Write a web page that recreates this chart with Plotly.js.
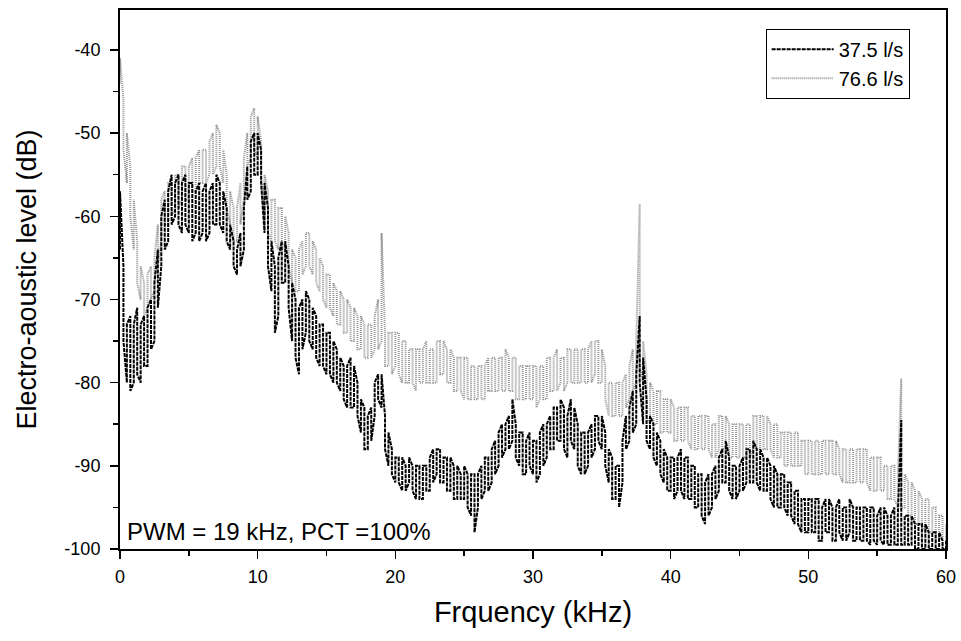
<!DOCTYPE html>
<html>
<head>
<meta charset="utf-8">
<script src="https://cdn.plot.ly/plotly-3.0.1.min.js"></script>
<style>
  html, body { margin: 0; padding: 0; background: #fff; }
  #chart { width: 961px; height: 641px; }
</style>
</head>
<body>
<div id="chart"></div>
<script>
// Frequency grid (kHz): 0 to 60 in steps of 0.25
const FREQ_START = 0;
const FREQ_STEP = 0.25;

// Series names
const seriesNames = ['37.5 l/s', '76.6 l/s'];

// 37.5 l/s: upper and lower edges of the noise band (dB)
const black_hi = [
-57,-66,-73,-72, -73,-71,-73,-72, -71,-70,-68,-64, -60,-58,-57,-55, -56,-55,-56,-55,
-56,-56,-57,-56, -57,-56,-57,-56, -55,-56,-57,-59, -61,-63,-64,-62, -59,-54,-51,-50,
-50,-52,-56,-59, -63,-66,-65,-63, -63,-66,-68,-70, -71,-70,-69,-70, -71,-72,-73,-73,
-74,-74,-75,-76, -77,-78,-78,-77, -78,-80,-82,-83, -84,-83,-80,-79, -79,-84,-86,-88,
-89,-89,-89,-90, -89,-90,-90,-90, -90,-90,-89,-88, -88,-88,-89,-89, -89,-90,-90,-91,
-90,-91,-91,-91, -91,-90,-89,-89, -88,-87,-86,-85, -85,-84,-82,-85, -86,-86,-87,-86,
-87,-87,-86,-85, -85,-84,-83,-83, -82,-83,-84,-82, -83,-85,-86,-86, -86,-85,-84,-84,
-84,-86,-88,-89, -90,-90,-87,-84, -83,-81,-79,-72, -77,-82,-84,-85, -86,-87,-88,-89,
-89,-89,-89,-88, -89,-89,-90,-90, -91,-91,-92,-91, -91,-90,-89,-88, -87,-89,-90,-90,
-90,-89,-88,-88, -87,-88,-88,-89, -89,-90,-90,-91, -91,-91,-92,-92, -93,-93,-94,-94,
-94,-94,-94,-94, -95,-94,-94,-95, -95,-94,-95,-95, -94,-95,-95,-95, -95,-95,-95,-95,
-96,-95,-95,-96, -96,-95,-96,-84.5, -96,-96,-96,-97, -97,-97,-97,-98, -98,-98,-98,-99,
-99
];
const black_lo = [
-64,-75,-80,-81, -80,-79,-80,-78, -78,-76,-75,-71, -66,-64,-63,-61, -60,-61,-62,-61,
-62,-63,-62,-63, -62,-63,-62,-61, -61,-61,-62,-63, -64,-66,-67,-66, -64,-58,-57,-55,
-55,-56,-62,-66, -69,-74,-72,-68, -68,-71,-75,-77, -79,-76,-74,-75, -76,-77,-78,-78,
-79,-79,-80,-80, -81,-82,-83,-83, -83,-84,-86,-88, -88,-87,-84,-82, -83,-88,-90,-91,
-92,-92,-93,-93, -92,-93,-94,-94, -94,-93,-93,-92, -91,-92,-92,-93, -93,-94,-94,-94,
-94,-95,-96,-98, -95,-94,-93,-93, -92,-91,-90,-89, -88,-88,-87,-89, -90,-91,-91,-90,
-91,-92,-91,-90, -89,-88,-88,-87, -87,-88,-89,-87, -88,-90,-91,-91, -90,-89,-88,-87,
-88,-90,-92,-94, -94,-95,-92,-88, -87,-86,-85,-80, -85,-87,-88,-89, -90,-91,-92,-93,
-93,-94,-93,-93, -94,-94,-94,-95, -95,-96,-97,-96, -95,-94,-93,-92, -92,-93,-94,-94,
-93,-93,-92,-92, -92,-92,-93,-93, -93,-94,-95,-95, -95,-95,-96,-96, -97,-97,-98,-98,
-98,-98,-98,-99, -99,-98,-98,-99, -99,-98,-99,-99, -98,-99,-99,-99, -99,-99,-99.5,-99,
-99.5,-99,-99.5,-99.5, -99.5,-99.5,-99.5,-99.5, -99.5,-99.5,-99.5,-100, -100,-100,-100,-100, -100,-100,-100,-100,
-100
];

// 76.6 l/s: upper and lower edges of the noise band (dB)
const gray_hi = [
-41,-46,-50,-54, -58,-63,-66,-68, -67,-66,-65,-61, -58,-57,-56,-56, -55,-55,-54,-54,
-54,-53,-53,-52, -52,-52,-51,-50, -49,-50,-52,-55, -57,-59,-59,-56, -53,-50,-48,-47,
-48,-51,-55,-57, -58,-58,-59,-59, -60,-62,-64,-65, -64,-63,-62,-62, -63,-64,-65,-66,
-67,-67,-68,-69, -69,-70,-70,-71, -71,-72,-72,-73, -73,-73,-72,-70, -62,-74,-74,-74,
-74,-74,-75,-75, -76,-76,-76,-76, -76,-75,-76,-76, -75,-75,-75,-76, -76,-77,-77,-77,
-77,-77,-78,-78, -78,-78,-78,-77, -77,-77,-77,-77, -76,-77,-77,-77, -78,-78,-78,-78,
-78,-78,-78,-78, -77,-77,-77,-76, -77,-77,-76,-76, -76,-76,-76,-76, -76,-75,-75,-75,
-76,-78,-80,-80, -80,-80,-80,-79, -78,-76,-75,-58.5, -75,-79,-80,-81, -81,-81,-82,-82,
-82,-83,-83,-83, -83,-83,-84,-84, -84,-84,-84,-84, -85,-85,-84,-84, -84,-85,-85,-85,
-85,-85,-85,-85, -84,-84,-84,-84, -84,-85,-85,-85, -86,-86,-86,-86, -86,-86,-87,-87,
-87,-87,-87,-87, -87,-87,-87,-87, -87,-88,-88,-88, -88,-88,-88,-88, -88,-88,-89,-89,
-89,-89,-90,-90, -90,-90,-91,-79.5, -91,-92,-92,-93, -93,-94,-94,-94, -95,-95,-96,-96,
-97
];
const gray_lo = [
-44,-52,-56,-60, -64,-68,-70,-72, -71,-70,-69,-66, -63,-61,-61,-60, -59,-59,-58,-58,
-58,-57,-57,-56, -56,-56,-55,-55, -54,-54,-56,-59, -61,-63,-63,-61, -58,-54,-53,-52,
-53,-55,-60,-62, -63,-63,-64,-63, -64,-66,-68,-69, -69,-67,-66,-66, -67,-68,-69,-70,
-71,-71,-72,-73, -73,-74,-74,-75, -75,-76,-76,-77, -77,-77,-76,-76, -75,-78,-78,-79,
-78,-79,-80,-80, -80,-80,-81,-80, -80,-80,-80,-80, -80,-79,-79,-80, -80,-81,-81,-81,
-82,-82,-82,-82, -82,-82,-82,-81, -81,-81,-81,-81, -81,-81,-81,-82, -82,-82,-82,-82,
-82,-83,-82,-82, -82,-81,-81,-81, -80,-81,-80,-80, -80,-80,-80,-80, -80,-80,-79,-80,
-80,-82,-84,-84, -84,-84,-84,-83, -82,-81,-80,-78, -80,-84,-85,-85, -85,-86,-86,-86,
-86,-87,-87,-87, -87,-87,-88,-88, -88,-88,-88,-88, -89,-89,-88,-88, -88,-89,-89,-89,
-89,-89,-89,-89, -88,-88,-88,-88, -88,-88,-89,-89, -89,-90,-90,-90, -90,-90,-90,-91,
-91,-91,-91,-91, -91,-91,-91,-91, -91,-91,-92,-92, -92,-92,-92,-92, -92,-92,-93,-93,
-93,-93,-93,-94, -94,-94,-95,-95, -95,-96,-96,-97, -97,-97,-98,-98, -98,-99,-99,-100,
-100
];

// Axis / label texts
const xTitle = 'Frquency (kHz)';
const yTitle = 'Electro-aoustic level (dB)';
const noteText = 'PWM = 19 kHz, PCT =100%';
const xTickVals = [0, 10, 20, 30, 40, 50, 60];
const yTickVals = [-100, -90, -80, -70, -60, -50, -40];

function freqAt(i) { return FREQ_START + i * FREQ_STEP; }

// Each reading is drawn as a vertical stroke from the lower to the upper edge of the band
function bandPath(hi, lo) {
  const xs = [], ys = [];
  for (let i = 0; i < hi.length; i++) {
    const f = freqAt(i);
    if (i % 2 === 0) { xs.push(f, f); ys.push(lo[i], hi[i]); }
    else { xs.push(f, f); ys.push(hi[i], lo[i]); }
  }
  return { xs, ys };
}

const g = bandPath(gray_hi, gray_lo);
const b = bandPath(black_hi, black_lo);

const traces = [
  { x: b.xs, y: b.ys, type: 'scatter', mode: 'lines', name: seriesNames[0],
    line: { color: '#000000', width: 2, dash: '4px,1px' }, legendrank: 1 },
  { x: g.xs, y: g.ys, type: 'scatter', mode: 'lines', name: seriesNames[1],
    line: { color: '#959595', width: 2, dash: '1px,1px' }, legendrank: 2 }
];
// draw gray beneath black
const data = [traces[1], traces[0]];

const font = 'Liberation Sans, Arial, sans-serif';

const layout = {
  width: 961, height: 641,
  margin: { l: 120, r: 15, t: 10, b: 92 },
  paper_bgcolor: '#ffffff', plot_bgcolor: '#ffffff',
  font: { family: font, color: '#000' },
  showlegend: true,
  legend: {
    x: 0.956, xanchor: 'right', y: 0.965, yanchor: 'top',
    bordercolor: '#000', borderwidth: 1, bgcolor: '#fff',
    font: { family: font, size: 20, color: '#000' },
    itemwidth: 62,
    traceorder: 'normal'
  },
  xaxis: {
    range: [0, 60], tickvals: xTickVals, ticktext: xTickVals.map(String),
    ticks: 'outside', ticklen: 8, tickwidth: 1.5, tickcolor: '#000',
    minor: { dtick: 5, tick0: 0, ticks: 'outside', ticklen: 5, tickwidth: 1.5, tickcolor: '#000' },
    showline: true, linecolor: '#000', linewidth: 2, mirror: true,
    showgrid: false, zeroline: false,
    ticklabelstandoff: 2,
    tickfont: { family: font, size: 18, color: '#000' },
    title: { text: xTitle, font: { family: font, size: 29, color: '#000' }, standoff: 16 }
  },
  yaxis: {
    range: [-100, -35.2], tickvals: yTickVals, ticktext: yTickVals.map(String),
    ticks: 'outside', ticklen: 8, tickwidth: 1.5, tickcolor: '#000',
    minor: { dtick: 5, tick0: -100, ticks: 'outside', ticklen: 5, tickwidth: 1.5, tickcolor: '#000' },
    showline: true, linecolor: '#000', linewidth: 2, mirror: true,
    showgrid: false, zeroline: false,
    ticklabelstandoff: 6,
    tickfont: { family: font, size: 18, color: '#000' },
    title: { text: yTitle, font: { family: font, size: 27, color: '#000' }, standoff: 20 }
  },
  annotations: [{
    text: noteText, xref: 'paper', yref: 'paper', x: 0.006, y: 0.003,
    xanchor: 'left', yanchor: 'bottom', showarrow: false,
    font: { family: font, size: 24, color: '#000' }
  }]
};

Plotly.newPlot('chart', data, layout, { displayModeBar: false, staticPlot: true });
</script>
</body>
</html>
